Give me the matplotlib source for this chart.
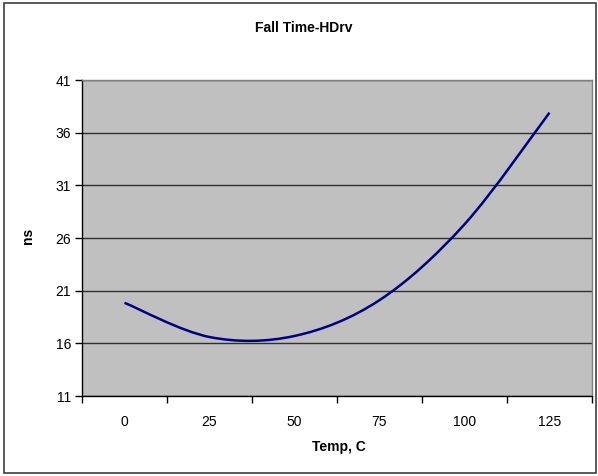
import matplotlib
matplotlib.use("Agg")
import matplotlib.pyplot as plt
from matplotlib.path import Path
from matplotlib.patches import PathPatch, Rectangle

plt.rcParams['font.family'] = ['Liberation Sans', 'DejaVu Sans']

# data
temps = ['0', '25', '50', '75', '100', '125']
fall_ns = [19.85, 16.6, 16.7, 20.1, 27.3, 37.9]
y_ticks = [11, 16, 21, 26, 31, 36, 41]

fig = plt.figure(figsize=(5.98, 4.76), dpi=100)
ax = fig.add_axes([82 / 598, 1 - 396 / 476, 510 / 598, 316 / 476])
ax.set_facecolor('#c0c0c0')

# Excel style smoothed line: cubic bezier through the category points
xs = list(range(len(fall_ns)))
verts = [(xs[0], fall_ns[0])]
codes = [Path.MOVETO]
n = len(fall_ns)
for i in range(n - 1):
    p_prev = fall_ns[max(i - 1, 0)]
    p_next2 = fall_ns[min(i + 2, n - 1)]
    x_prev = xs[max(i - 1, 0)]
    x_next2 = xs[min(i + 2, n - 1)]
    c1 = (xs[i] + (xs[i + 1] - x_prev) / 6, fall_ns[i] + (fall_ns[i + 1] - p_prev) / 6)
    c2 = (xs[i + 1] - (x_next2 - xs[i]) / 6, fall_ns[i + 1] - (p_next2 - fall_ns[i]) / 6)
    verts += [c1, c2, (xs[i + 1], fall_ns[i + 1])]
    codes += [Path.CURVE4] * 3
ax.add_patch(PathPatch(Path(verts, codes), fill=False, edgecolor='#000080',
                       lw=1.8, zorder=3, capstyle='butt'))

ax.set_xlim(-0.5, n - 0.5)
ax.set_ylim(y_ticks[0], y_ticks[-1])
ax.set_yticks(y_ticks)
ax.yaxis.grid(True, color='#303030', lw=1)
ax.set_axisbelow(True)

# category axis: tick marks between categories, labels centred
ax.set_xticks([i - 0.5 for i in range(n + 1)])
ax.set_xticklabels([])
ax.set_xticks(xs, minor=True)
ax.set_xticklabels(temps, minor=True)
ax.tick_params(axis='x', which='major', direction='out', length=5, width=1, color='black')
ax.tick_params(axis='x', which='minor', length=0, pad=14, labelsize=10)
ax.tick_params(axis='y', direction='out', length=5, width=1, pad=3, labelsize=10)

for s in ['top', 'right']:
    ax.spines[s].set_color('#808080')
    ax.spines[s].set_linewidth(1)
for s in ['left', 'bottom']:
    ax.spines[s].set_color('black')
    ax.spines[s].set_linewidth(1)

fig.text(304 / 598, 1 - 28 / 476, 'Fall Time-HDrv', ha='center', va='center',
         fontsize=10, fontweight='bold')
fig.text(339 / 598, 1 - 447 / 476, 'Temp, C', ha='center', va='center',
         fontsize=10, fontweight='bold')
fig.text(28 / 598, 1 - 236 / 476, 'ns', ha='center', va='center',
         fontsize=10, fontweight='bold', rotation=90)

# outer chart border
fig.patches.append(Rectangle((4 / 598, 3 / 476), 592 / 598, 470 / 476,
                             transform=fig.transFigure, fill=False,
                             edgecolor='#404040', lw=1.2))

fig.savefig('out.png', dpi=100)
